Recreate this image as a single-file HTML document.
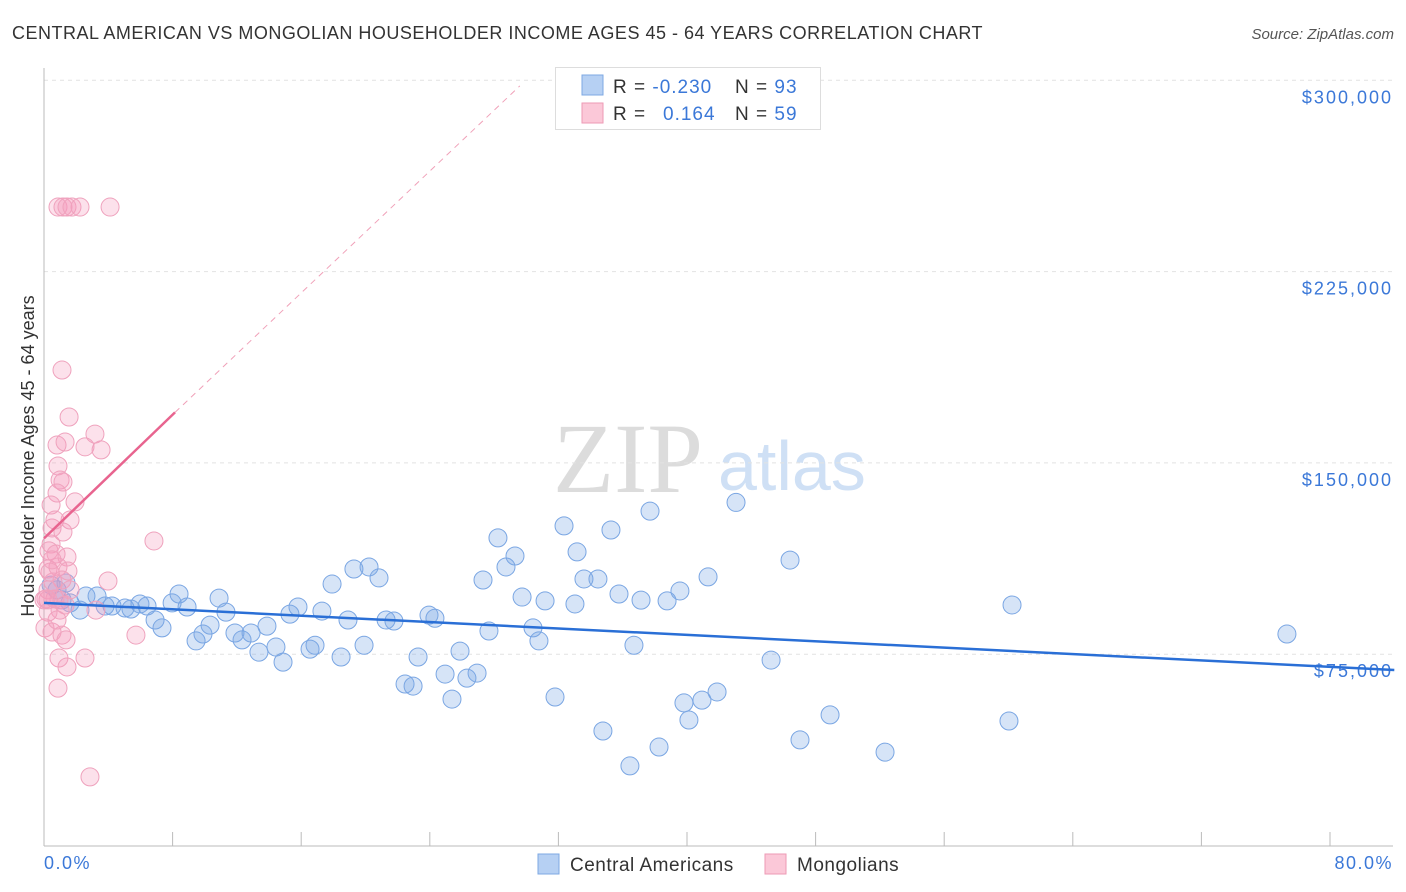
<!DOCTYPE html>
<html><head><meta charset="utf-8"><style>
body{margin:0;background:#fff;font-family:"Liberation Sans",sans-serif;}
svg{display:block}
</style></head><body>
<svg id="c" width="1406" height="892" xmlns="http://www.w3.org/2000/svg">
<text x="12" y="39" font-size="18" fill="#333" letter-spacing="0.5">CENTRAL AMERICAN VS MONGOLIAN HOUSEHOLDER INCOME AGES 45 - 64 YEARS CORRELATION CHART</text>
<text x="1394" y="39" font-size="15" fill="#555" font-style="italic" text-anchor="end">Source: ZipAtlas.com</text>
<text x="553" y="492" font-size="100" fill="#dcdcdc" font-family="Liberation Serif,serif">ZIP</text>
<text x="718" y="490" font-size="70" fill="#cfe0f5">atlas</text>
<g id="grid"></g>
<g id="axes"></g>
<g id="pts"></g>
<g id="lines"></g>
<text transform="translate(34,456) rotate(-90)" font-size="18" fill="#333" text-anchor="middle">Householder Income Ages 45 - 64 years</text>
<text x="44" y="869" font-size="18" fill="#3b78d8" letter-spacing="1.5">0.0%</text>
<text x="1393" y="869" font-size="18" fill="#3b78d8" text-anchor="end" letter-spacing="1.5">80.0%</text>
<g>
<rect x="555.5" y="67.5" width="265" height="62" fill="#fff" stroke="#ddd"/>
<rect x="582" y="75" width="21" height="20" fill="#b6d0f3" stroke="#7ea8e3"/>
<rect x="582" y="103" width="21" height="20" fill="#fbc8d8" stroke="#ee9ab5"/>
<text x="613" y="93" font-size="19" fill="#333" letter-spacing="1">R = <tspan fill="#3b78d8">-0.230</tspan></text>
<text x="735" y="93" font-size="19" fill="#333" letter-spacing="1">N = <tspan fill="#3b78d8">93</tspan></text>
<text x="613" y="120" font-size="19" fill="#333" letter-spacing="1">R = </text>
<text x="663" y="120" font-size="19" fill="#3b78d8" letter-spacing="1">0.164</text>
<text x="735" y="120" font-size="19" fill="#333" letter-spacing="1">N = <tspan fill="#3b78d8">59</tspan></text>
</g>
<g>
<rect x="538" y="854" width="21" height="20" fill="#b6d0f3" stroke="#7ea8e3"/>
<text x="570" y="871" font-size="19" fill="#333" letter-spacing="0.5">Central Americans</text>
<rect x="765" y="854" width="21" height="20" fill="#fbc8d8" stroke="#ee9ab5"/>
<text x="797" y="871" font-size="19" fill="#333" letter-spacing="0.5">Mongolians</text>
</g>
</svg>
<script>
const yTicks=[75000,150000,225000,300000];
const yTickLabels=["$75,000","$150,000","$225,000","$300,000"];
const xTicks=[0,8,16,24,32,40,48,56,64,72,80];
const blueX=[0.44,0.81,1.12,1.37,1.62,2.24,2.61,3.30,3.80,4.23,5.04,5.41,5.97,6.41,6.91,7.34,7.97,8.40,8.90,9.46,9.89,10.33,10.89,11.32,11.88,12.32,12.88,13.37,13.87,14.43,14.87,15.30,15.80,16.55,16.86,17.29,18.48,18.91,17.92,19.28,19.91,20.22,20.84,21.28,21.77,22.46,22.96,23.27,23.95,24.32,24.95,25.38,25.88,26.31,26.94,27.31,27.68,28.24,28.74,29.30,29.74,30.42,30.79,31.17,31.79,32.35,33.03,33.16,33.59,34.46,34.77,35.27,35.77,36.45,36.70,37.14,37.70,38.26,38.76,39.56,39.81,40.12,40.93,41.31,41.87,43.05,45.23,46.41,47.03,48.90,52.32,60.03,60.22,77.32];
const blueY=[102.1,100.2,96.3,102.9,95.1,92.3,97.8,97.8,93.9,93.9,93.1,92.7,94.7,93.9,88.4,85.3,95.1,98.6,93.5,80.2,82.9,86.4,97.0,91.5,83.3,80.6,83.3,75.8,86.0,77.8,71.9,90.7,93.5,77.0,78.5,91.9,73.9,88.4,102.5,108.4,78.5,109.2,104.9,88.4,88.0,63.3,62.5,73.9,90.3,89.1,67.2,57.4,76.2,65.6,67.6,104.1,84.1,120.6,109.2,113.5,97.4,85.3,80.2,95.9,58.2,125.3,94.7,115.1,104.5,104.5,44.9,123.7,98.6,31.2,78.5,96.2,131.1,38.6,95.9,99.8,55.9,49.2,57.0,105.3,60.2,134.5,72.7,111.9,41.4,51.2,36.6,48.8,94.3,82.9];
const pinkX=[0.87,1.18,1.43,1.74,2.24,4.11,1.12,1.56,3.17,0.81,1.31,2.55,3.55,0.87,1.00,1.18,0.81,1.93,0.44,1.62,0.50,1.18,0.44,0.31,0.75,1.43,0.25,0.87,1.49,1.12,0.56,0.25,3.98,6.84,0.12,0.68,0.93,1.31,1.00,0.25,3.23,0.06,0.50,1.12,1.37,5.72,0.93,1.43,2.55,0.87,2.86,0.25,0.37,0.68,1.62,0.50,0.81,0];
const pinkY=[250.3,250.3,250.3,250.3,250.3,250.3,186.4,168.0,161.3,157.0,158.2,156.3,155.1,148.8,143.3,142.5,138.2,134.7,133.5,127.6,124.5,122.9,118.2,115.5,114.3,113.1,108.4,109.2,107.6,104.1,103.3,100.2,103.7,119.4,96.7,96.7,96.3,94.3,92.3,91.5,92.3,85.3,83.7,82.5,80.6,82.5,73.5,70.0,73.5,61.7,26.9,96.3,107.2,127.6,100.2,112.0,88.4,96.3];
const blueTrend=[95.1,68.8];
const pinkTrend=[120.4,169.8,297.8];
const pinkTrendX=[0,8.15,29.6];
const NS="http://www.w3.org/2000/svg";
const X=v=>44+v*16.075;
const Y=k=>845.5-k*2.5507;
function mk(t,a,p){const e=document.createElementNS(NS,t);for(const k in a)e.setAttribute(k,a[k]);p.appendChild(e);return e;}
const grid=document.getElementById('grid'),axes=document.getElementById('axes'),pts=document.getElementById('pts'),lines=document.getElementById('lines');
yTicks.forEach((v,i)=>{
 const l=mk('line',{x1:44,x2:1393,y1:Y(v/1000),y2:Y(v/1000),stroke:'#e2e2e2','stroke-dasharray':'4,4'},grid);
 
 
 const t=mk('text',{x:1393,y:Y(v/1000)+23,'font-size':18,fill:'#3b78d8','text-anchor':'end','letter-spacing':'2'},grid);
 t.textContent=yTickLabels[i];
 
 
});
const ax=mk('line',{x1:44,x2:44,y1:68,y2:846,stroke:'#bbb'},axes);


const bx=mk('line',{x1:44,x2:1393,y1:846,y2:846,stroke:'#bbb'},axes);


xTicks.forEach(v=>{
 const t=mk('line',{x1:X(v),x2:X(v),y1:832,y2:846,stroke:'#bbb'},axes);
 
 
});
blueX.forEach((x,i)=>{
 const c=mk('circle',{cx:X(x),cy:Y(blueY[i]),r:9,fill:'rgba(120,165,230,0.3)',stroke:'#7aa6e3','stroke-width':1},pts);
 
 
});
pinkX.forEach((x,i)=>{
 const c=mk('circle',{cx:X(x),cy:Y(pinkY[i]),r:9,fill:'rgba(245,155,190,0.3)',stroke:'#efa2bd','stroke-width':1},pts);
 
 
});
const bl=mk('line',{x1:X(0),y1:Y(blueTrend[0]),x2:X(84),y2:Y(blueTrend[1]),stroke:'#2a6fd6','stroke-width':2.5},lines);


const pl=mk('line',{x1:X(pinkTrendX[0]),y1:Y(pinkTrend[0]),x2:X(pinkTrendX[1]),y2:Y(pinkTrend[1]),stroke:'#e8648f','stroke-width':2.5},lines);


const pd=mk('line',{x1:X(pinkTrendX[1]),y1:Y(pinkTrend[1]),x2:X(pinkTrendX[2]),y2:Y(pinkTrend[2]),stroke:'#f0a0b8','stroke-width':1,'stroke-dasharray':'6,5'},lines);


</script>
</body></html>
